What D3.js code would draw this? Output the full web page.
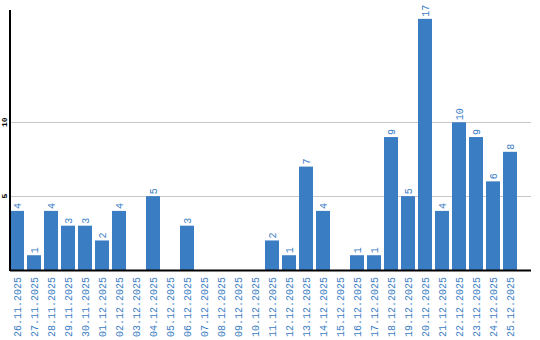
<!DOCTYPE html>
<html>
<head>
<meta charset="utf-8">
<script src="https://cdn.jsdelivr.net/npm/d3@7/dist/d3.min.js"></script>
<style>
html,body{margin:0;padding:0;background:#fff;}
svg{display:block;}
</style>
</head>
<body>
<svg id="chart" width="540" height="340"></svg>
<script>
const dates = ["26.11.2025","27.11.2025","28.11.2025","29.11.2025","30.11.2025","01.12.2025","02.12.2025","03.12.2025","04.12.2025","05.12.2025","06.12.2025","07.12.2025","08.12.2025","09.12.2025","10.12.2025","11.12.2025","12.12.2025","13.12.2025","14.12.2025","15.12.2025","16.12.2025","17.12.2025","18.12.2025","19.12.2025","20.12.2025","21.12.2025","22.12.2025","23.12.2025","24.12.2025","25.12.2025"];
const counts = [4,1,4,3,3,2,4,0,5,0,3,0,0,0,0,2,1,7,4,0,1,1,9,5,17,4,10,9,6,8];
const yTicks = [5,10];

(function(){
const data = dates.map((d,i)=>({date:d, value:counts[i]}));
const svg = d3.select("#chart");
const blue = "#3b7dc3";
const font = "Liberation Mono, Courier New, monospace";
const mLeft = 10, mBottom = 270, mTop = 10, axisRight = 531;

const x = d3.scaleBand().domain(dates).range([mLeft, 517]).paddingInner(3/17).paddingOuter(0);
const y = d3.scaleLinear().domain([0, 17.6]).range([mBottom, mTop]);

svg.append("g").selectAll("line").data(yTicks).join("line")
  .attr("x1", mLeft).attr("x2", axisRight)
  .attr("y1", d=>Math.round(y(d))+0.5).attr("y2", d=>Math.round(y(d))+0.5)
  .attr("stroke", "#c8c8c8").attr("stroke-width", 1);

svg.append("g").selectAll("text").data(yTicks).join("text")
  .attr("transform", d=>`translate(7,${y(d)}) rotate(-90)`)
  .attr("text-anchor","middle")
  .attr("font-family", font)
  .attr("font-size", 8).attr("font-weight","bold")
  .attr("fill","#000")
  .text(d=>d);

svg.append("g").selectAll("rect").data(data.filter(d=>d.value>0)).join("rect")
  .attr("x", d=>x(d.date)).attr("width", x.bandwidth())
  .attr("y", d=>y(d.value)).attr("height", d=>mBottom - y(d.value))
  .attr("fill", blue);

svg.append("g").selectAll("text").data(data.filter(d=>d.value>0)).join("text")
  .attr("transform", d=>`translate(${x(d.date)+x.bandwidth()/2+3.5},${y(d.value)-2}) rotate(-90)`)
  .attr("text-anchor","start")
  .attr("font-family", font)
  .attr("font-size", 10)
  .attr("fill", blue)
  .text(d=>d.value);

svg.append("line").attr("x1", mLeft).attr("x2", mLeft).attr("y1", mTop).attr("y2", mBottom+1)
  .attr("stroke","#000").attr("stroke-width",2);
svg.append("line").attr("x1", mLeft).attr("x2", axisRight).attr("y1", mBottom+0.5).attr("y2", mBottom+0.5)
  .attr("stroke","#000").attr("stroke-width",2);

const xAxis = d3.axisBottom(x).tickSize(0).tickPadding(0);
const gx = svg.append("g").attr("transform", `translate(0,${mBottom})`).call(xAxis);
gx.select(".domain").remove();
gx.selectAll("text")
  .attr("font-family", font)
  .attr("font-size", 10)
  .attr("fill", blue)
  .attr("text-anchor","end")
  .attr("dy", null)
  .attr("y", 0)
  .attr("transform","translate(3.5,7) rotate(-90)");
})();
</script>
</body>
</html>
